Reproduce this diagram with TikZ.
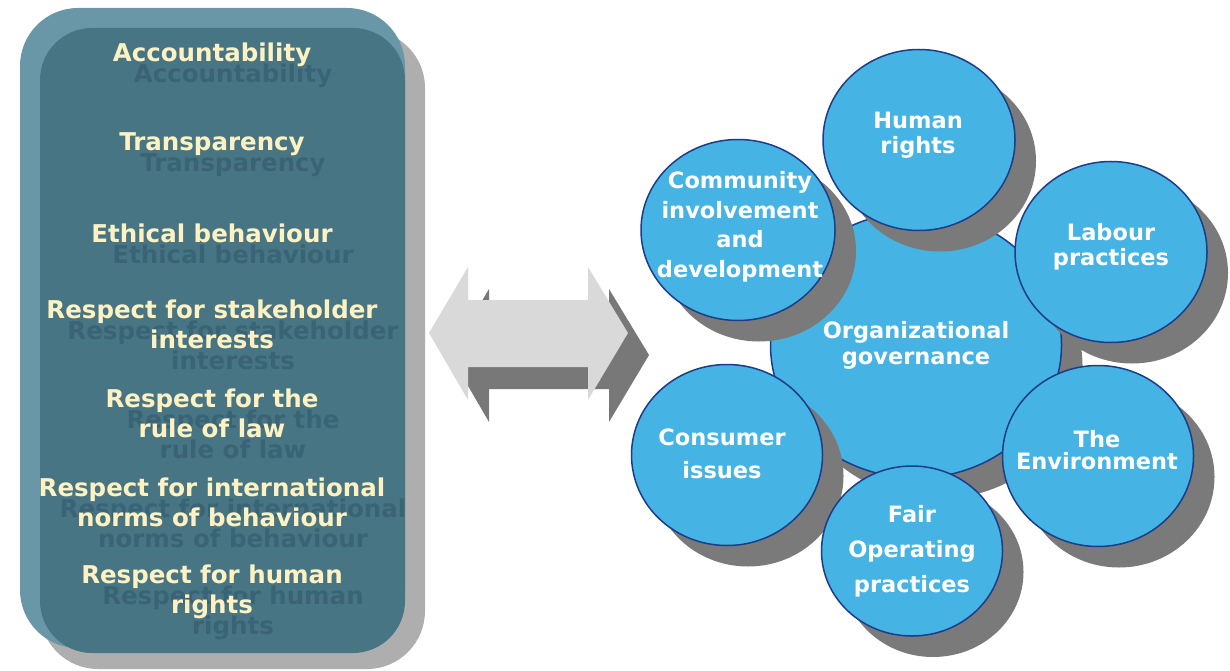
\documentclass[tikz,border=0pt]{standalone}
\usepackage{fontspec}
\setmainfont{DejaVu Sans}
\usetikzlibrary{shapes.geometric,shadows}
\definecolor{rimblue}{HTML}{6A97A8}
\definecolor{boxblue}{HTML}{487584}
\definecolor{boxshadow}{HTML}{AEAEAE}
\definecolor{cream}{HTML}{FFF2C2}
\definecolor{txtshadow}{HTML}{3A6475}
\definecolor{arrowlight}{HTML}{D9D9D9}
\definecolor{arrowdark}{HTML}{787878}
\definecolor{circfill}{HTML}{45B3E3}
\definecolor{circline}{HTML}{1C3C8C}
\definecolor{circshadow}{HTML}{7A7A7A}
\begin{document}
\begin{tikzpicture}[x=1pt,y=-1pt,
  ltext/.style={align=center, text=cream, font=\fontsize{24.5}{30}\selectfont\bfseries, inner sep=0pt},
  lshade/.style={align=center, text=txtshadow, font=\fontsize{24.5}{30}\selectfont\bfseries, inner sep=0pt},
  circ/.style={ellipse, draw=circline, line width=1.5pt, fill=circfill, inner sep=0pt,
    drop shadow={shadow xshift=21pt, shadow yshift=-21pt, fill=circshadow, opacity=1}},
  ctext/.style={align=center, text=white, font=\fontsize{22.5}{27}\selectfont\bfseries, inner sep=0pt}
]
\useasboundingbox (0,0) rectangle (1230,671);
\fill[white] (0,0) rectangle (1230,671);
% left panel
\fill[boxshadow, rounded corners=58pt] (40,30) rectangle (425,669);
\fill[rimblue, rounded corners=58pt] (20,8) rectangle (405,648);
\fill[boxblue, rounded corners=52pt] (40,28) rectangle (405,653);
% shadow texts
\node[lshade] (s1) at (233,76) {Accountability};
\node[lshade] (s2) at (233,165) {Transparency};
\node[lshade] (s3) at (233,254) {Ethical behaviour};
\node[lshade] (s4) at (233,345) {Respect for stakeholder\\interests};
\node[lshade] (s5) at (233,434) {Respect for the\\rule of law};
\node[lshade] (s6) at (233,523) {Respect for international\\norms of behaviour};
\node[lshade] (s7) at (233,613) {Respect for human\\rights};
% front texts
\node[ltext] (t1) at (212,55) {Accountability};
\node[ltext] (t2) at (212,144) {Transparency};
\node[ltext] (t3) at (212,233) {Ethical behaviour};
\node[ltext] (t4) at (212,324) {Respect for stakeholder\\interests};
\node[ltext] (t5) at (212,413) {Respect for the\\rule of law};
\node[ltext] (t6) at (212,502) {Respect for international\\norms of behaviour};
\node[ltext] (t7) at (212,592) {Respect for human\\rights};
% double arrow
\fill[arrowdark, shift={(21,22)}] (429,333) -- (468,267) -- (468,300) -- (588,300) -- (588,267) -- (628,333)
  -- (588,400) -- (588,367) -- (468,367) -- (468,400) -- cycle;
\fill[arrowlight] (429,333) -- (468,267) -- (468,300) -- (588,300) -- (588,267) -- (628,333)
  -- (588,400) -- (588,367) -- (468,367) -- (468,400) -- cycle;
% circles
\node[circ, ctext, minimum width=291pt, minimum height=266pt] (og) at (916,345) {Organizational\\[-1pt]governance};
\node[circ, minimum width=194pt, minimum height=181pt] (ci) at (738,230) {};
\node[ctext] (cit) at (740,227) {Community\\[2.5pt]involvement\\[2.5pt]and\\[2.5pt]development};
\node[circ, minimum width=192pt, minimum height=181pt] (hr) at (919,140) {};
\node[ctext] (hrt) at (918,135) {Human\\[-2pt]rights};
\node[circ, minimum width=192pt, minimum height=181pt] (lp) at (1111,252) {};
\node[ctext] (lpt) at (1111,247) {Labour\\[-2pt]practices};
\node[circ, minimum width=191pt, minimum height=181pt] (cu) at (727,455) {};
\node[ctext] (cut) at (722,454) {Consumer\\[6pt]issues};
\node[circ, minimum width=191pt, minimum height=181pt] (en) at (1098,456) {};
\node[ctext] (ent) at (1097,450) {The\\[-5pt]Environment};
\node[circ, minimum width=181pt, minimum height=170pt] (fo) at (912,551) {};
\node[ctext] (fot) at (912,551) {Fair\\[8pt]Operating\\[8pt]practices};
\end{tikzpicture}
\end{document}
